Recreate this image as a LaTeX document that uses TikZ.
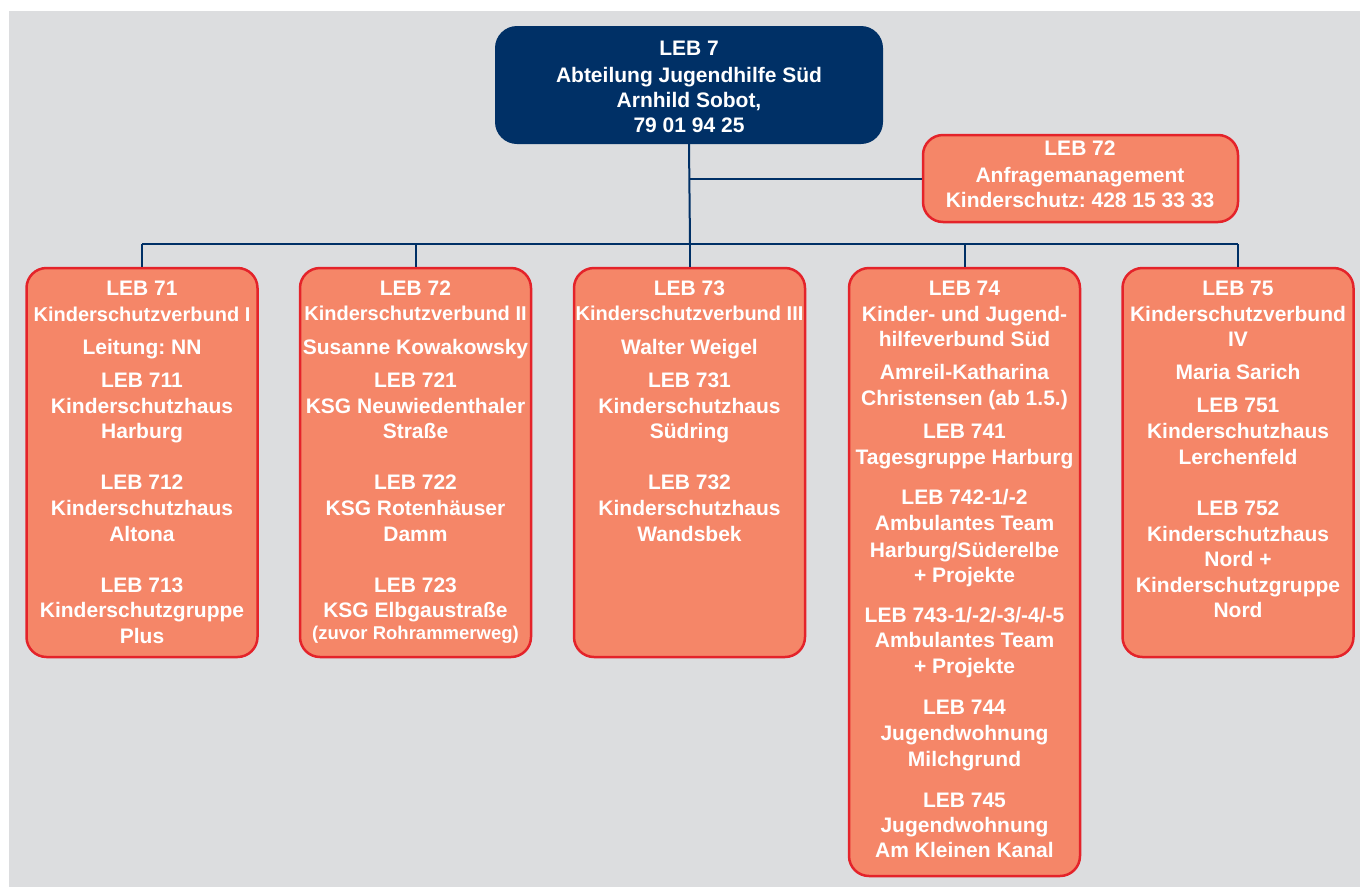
\documentclass[tikz,border=0pt]{standalone}
\usepackage{fontspec}
\setmainfont{Liberation Sans}
\frenchspacing
\definecolor{bggray}{HTML}{DCDDDF}
\definecolor{navy}{HTML}{003066}
\definecolor{lebfill}{HTML}{F58668}
\definecolor{leborder}{HTML}{E4232A}
\newcommand\boxlines[3]{%
  \foreach \yy/\sty/\tx [count=\i] in {#3} {\node[\sty] (#1-\i) at (#2,\yy) {\tx};}}
\begin{document}
\begin{tikzpicture}[x=1pt,y=-1pt,
  ta/.style={text=white, inner sep=0pt, anchor=base, font=\fontsize{21}{25}\selectfont\bfseries\frenchspacing},
  tb/.style={ta, font=\fontsize{20}{25}\selectfont\bfseries\frenchspacing},
  tc/.style={ta, font=\fontsize{18.5}{22}\selectfont\bfseries\frenchspacing},
  lebbox/.style={draw=leborder, line width=2.5pt, fill=lebfill, rounded corners=20pt, minimum width=231pt, inner sep=0pt},
  topbox/.style={fill=navy, rounded corners=22pt, inner sep=0pt},
  lnk/.style={draw=navy, line width=2pt}]
\useasboundingbox (0,0) rectangle (1360,887);
\fill[bggray] (9,11) rectangle (1360,887);
% boxes
\node[topbox, minimum width=388pt, minimum height=118pt] (top) at (689,85) {};
\node[lebbox, minimum width=315pt, minimum height=87pt] (anf) at (1080.5,178.5) {};
\node[lebbox, minimum height=389pt] (b1) at (142,462.5) {};
\node[lebbox, minimum height=389pt] (b2) at (415.5,462.5) {};
\node[lebbox, minimum height=389pt] (b3) at (689.5,462.5) {};
\node[lebbox, minimum height=608pt] (b4) at (964.5,572) {};
\node[lebbox, minimum height=389pt] (b5) at (1238,462.5) {};
% connectors
\coordinate (bus) at (690,244);
\draw[lnk] (top.south) -- (bus);
\draw[lnk] (top.south |- anf.west) -- (anf.west);
\draw[lnk] (b1.north |- bus) -- (b5.north |- bus);
\foreach \b in {b1,b2,b3,b4,b5} \draw[lnk] (\b.north |- bus) -- (\b.north);
% texts
\boxlines{tt}{689}{55/ta/LEB 7, 82/ta/Abteilung Jugendhilfe Süd, 107/ta/{Arnhild Sobot,}, 132/ta/79 01 94 25}
\boxlines{at}{1080}{155/ta/LEB 72, 182/ta/Anfragemanagement, 207/ta/Kinderschutz: 428 15 33 33}
\boxlines{t1}{142}{295/ta/LEB 71, 321/tb/Kinderschutzverbund I, 354/ta/Leitung: NN,
  387/ta/LEB 711, 413/ta/Kinderschutzhaus, 438/ta/Harburg,
  489/ta/LEB 712, 515/ta/Kinderschutzhaus, 541/ta/Altona,
  592/ta/LEB 713, 617/ta/Kinderschutzgruppe, 643/ta/Plus}
\boxlines{t2}{415.5}{295/ta/LEB 72, 320/tb/Kinderschutzverbund II, 354/ta/Susanne Kowakowsky,
  387/ta/LEB 721, 413/ta/KSG Neuwiedenthaler, 438/ta/Straße,
  489/ta/LEB 722, 515/ta/KSG Rotenhäuser, 541/ta/Damm,
  592/ta/LEB 723, 617/ta/KSG Elbgaustraße, 639/tc/(zuvor Rohrammerweg)}
\boxlines{t3}{689.5}{295/ta/LEB 73, 320/tb/Kinderschutzverbund III, 354/ta/Walter Weigel,
  387/ta/LEB 731, 413/ta/Kinderschutzhaus, 438/ta/Südring,
  489/ta/LEB 732, 515/ta/Kinderschutzhaus, 541/ta/Wandsbek}
\boxlines{t4}{964.5}{295/ta/LEB 74, 321/ta/Kinder- und Jugend-, 346/ta/hilfeverbund Süd,
  379/ta/Amreil-Katharina, 405/ta/Christensen (ab 1.5.),
  438/ta/LEB 741, 464/ta/Tagesgruppe Harburg,
  504/ta/{LEB 742-1/-2}, 530/ta/Ambulantes Team, 557/ta/{Harburg/Süderelbe}, 582/ta/+ Projekte,
  622/ta/{LEB 743-1/-2/-3/-4/-5}, 647/ta/Ambulantes Team, 673/ta/+ Projekte,
  714/ta/LEB 744, 740/ta/Jugendwohnung, 766/ta/Milchgrund,
  807/ta/LEB 745, 832/ta/Jugendwohnung, 857/ta/Am Kleinen Kanal}
\boxlines{t5}{1238}{295/ta/LEB 75, 321/ta/Kinderschutzverbund, 346/ta/IV,
  379/ta/Maria Sarich,
  412/ta/LEB 751, 438/ta/Kinderschutzhaus, 464/ta/Lerchenfeld,
  515/ta/LEB 752, 541/ta/Kinderschutzhaus, 566/ta/Nord +, 592/ta/Kinderschutzgruppe, 617/ta/Nord}
\end{tikzpicture}
\end{document}
